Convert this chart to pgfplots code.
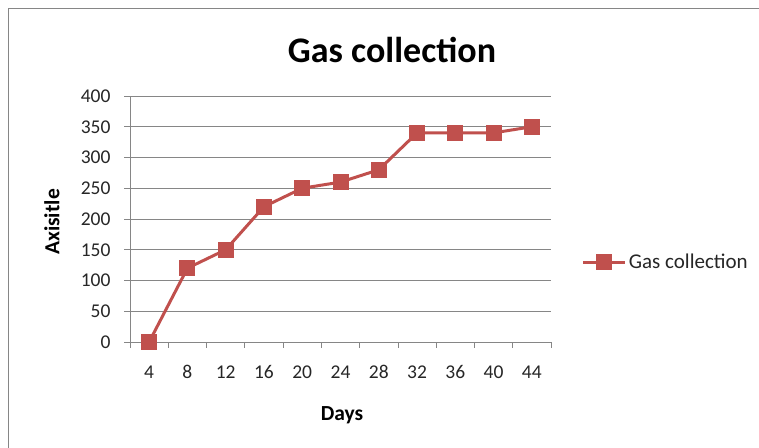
\documentclass[border=0pt]{standalone}
\usepackage{pgfplots}
\pgfplotsset{compat=1.18}
\usepackage{fontspec}
\setmainfont{Carlito}
\definecolor{ser}{RGB}{192,80,77}
\definecolor{grd}{RGB}{134,134,134}
\begin{document}
\begin{tikzpicture}[x=1bp,y=1bp]
\useasboundingbox (0,0) rectangle (759,448);
\draw[grd,line width=1.2bp] (8.5,0) -- (8.5,439.5) -- (759,439.5);
\begin{axis}[
  at={(130bp,106bp)}, anchor=south west,
  scale only axis, width=421bp, height=246bp,
  xmin=-0.5, xmax=10.5, ymin=0, ymax=400,
  xtick=data, xticklabels={4,8,12,16,20,24,28,32,36,40,44},
  major x tick style={draw=none},
  minor xtick={-0.5,0.5,...,10.5},
  minor tick length=6bp,
  ytick={0,50,...,400},
  major tick length=6bp,
  tick align=outside,
  tick style={grd, line width=0.8bp},
  ymajorgrids, grid style={grd, line width=0.8bp},
  axis x line*=bottom, axis y line*=left,
  axis line style={grd, line width=0.8bp, -},
  /pgf/number format/assume math mode=true,
  tick label style={font=\fontsize{19.5bp}{22bp}\selectfont, text=black!85},
  xticklabel style={yshift=-14bp},
  yticklabel style={xshift=-10bp},
  clip=false,
  legend style={at={(rel axis cs:1.073,0.325)}, anchor=west, draw=none, fill=none,
     font=\fontsize{21bp}{24bp}\selectfont, text=black!85, inner xsep=0pt},
  legend cell align=left,
  legend image code/.code={\draw[mark repeat=2,mark phase=2] plot coordinates {(0bp,0bp)(21bp,0bp)(42bp,0bp)};},
]
\addplot[ser, line width=3bp, mark=square*, mark size=6.5bp, mark options={solid}]
 coordinates {(0,0)(1,120)(2,150)(3,220)(4,250)(5,260)(6,280)(7,340)(8,340)(9,340)(10,350)};
\addlegendentry{Gas collection}
\end{axis}
\node[font=\fontsize{36bp}{40bp}\selectfont\bfseries] at (392,398) {Gas collection};
\node[font=\fontsize{21.5bp}{24bp}\selectfont\bfseries, rotate=90] at (52,226) {Axisitle};
\node[font=\fontsize{21.5bp}{24bp}\selectfont\bfseries] at (342,33) {Days};
\end{tikzpicture}
\end{document}
